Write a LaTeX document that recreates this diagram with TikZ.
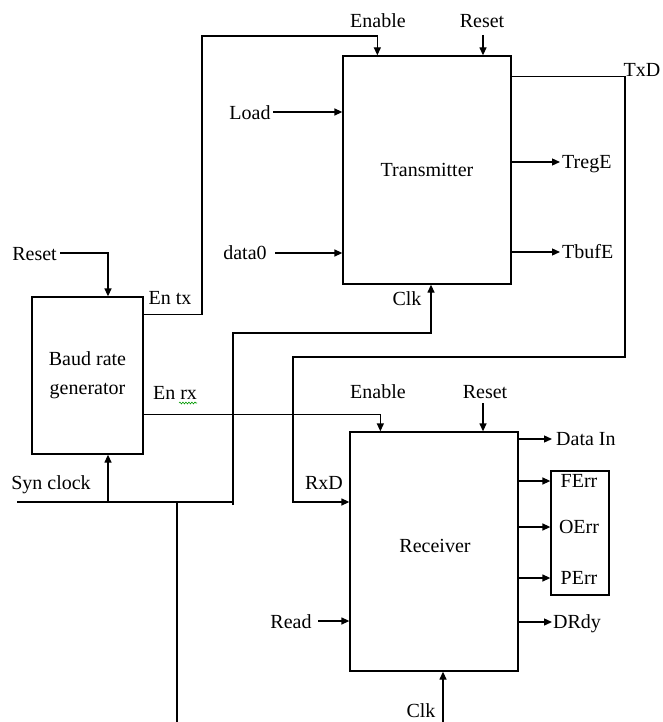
\documentclass[tikz,border=0pt]{standalone}
\usepackage{fontspec}
\setmainfont{Liberation Serif}
\usetikzlibrary{arrows.meta,decorations.pathmorphing}
\begin{document}
\begin{tikzpicture}[x=1pt,y=-1pt,
  wire/.style={line width=1.3pt},
  arr/.style={wire,-{Triangle[length=8pt,width=7pt]}},
  blk/.style={draw,line width=1.3pt,inner sep=0pt,font=\fontsize{20}{29}\selectfont,align=center},
  lbl/.style={inner sep=0pt,font=\fontsize{20}{24}\selectfont,text height=13pt,text depth=0pt}]
\useasboundingbox (0,0) rectangle (662,722);

% blocks
\node[blk,minimum width=168pt,minimum height=228pt] (tx) at (427,170) {Transmitter};
\node[blk,minimum width=168pt,minimum height=239pt] (rx) at (434,551.5) {};
\node[lbl] (rxname) at (435,546) {Receiver};
\node[blk,minimum width=111pt,minimum height=157pt] (baud) at (87.5,375.5) {Baud rate\\generator};
\node[blk,minimum width=58pt,minimum height=124pt] (err) at (580,533) {};

% labels
\node[lbl] (entxl) at (378,21) {Enable};
\node[lbl] (rsttxl) at (482,21) {Reset};
\node[lbl] (loadl) at (250,113) {Load};
\node[lbl] (datal) at (245,253) {data0};
\node[lbl,anchor=west] (tregl) at (562,162) {TregE};
\node[lbl,anchor=west] (tbufl) at (562,252) {TbufE};
\node[lbl] (txdl) at (642,70) {TxD};
\node[lbl] (clktxl) at (407,299) {Clk};
\node[lbl] (rstbl) at (34.5,254) {Reset};
\node[lbl] (entx) at (170,298) {En tx};
\node[lbl] (enrx) at (175,393) {En rx};
\node[lbl] (synl) at (51,483) {Syn clock};
\node[lbl] (enrxl) at (378,392) {Enable};
\node[lbl] (rstrxl) at (485,392) {Reset};
\node[lbl] (rxdl) at (324,483) {RxD};
\node[lbl] (readl) at (291,622) {Read};
\node[lbl] (clkrxl) at (421,711) {Clk};
\node[lbl,anchor=west] (datainl) at (556,439) {Data In};
\node[lbl] (ferrl) at (579,481) {FErr};
\node[lbl] (oerrl) at (579,527) {OErr};
\node[lbl] (perrl) at (579,578) {PErr};
\node[lbl,anchor=west] (drdyl) at (553,622) {DRdy};

% spell-check squiggle under "rx"
\draw[green!60!black,line width=0.6pt,decorate,decoration={snake,amplitude=0.9pt,segment length=3pt}] (179,403) -- (197,403);

% transmitter connections
\draw[arr] ([yshift=-18pt]baud.north east) -| (202,36) -| ([xshift=35pt]tx.north west);
\draw[arr] (483,35) -- ([xshift=56pt]tx.north);
\draw[arr] (273,112) -- (273,112 -| tx.west);
\draw[arr] (275,253) -- (275,253 -| tx.west);
\draw[arr] (tx.east |- tregl.west) -- ([xshift=-2pt]tregl.west);
\draw[arr] (tx.east |- tbufl.west) -- ([xshift=-2pt]tbufl.west);
\draw[arr] ([yshift=-21pt]tx.north east) -| (625,357) -| (293,502) -- (293,502 -| rx.west);

% clock and baud generator
\draw[wire] (17,502) -- (233,502);
\draw[arr] (233,505) |- (431,333) -- ([xshift=4pt]tx.south);
\draw[arr] (108,502) -- ([xshift=20.5pt]baud.south);
\draw[wire] (177,502) -- (177,722);
\draw[arr] (60,253) -| ([xshift=20.5pt]baud.north);

% receiver connections
\draw[arr] ([yshift=-118pt]baud.north east) -| ([xshift=31pt]rx.north west);
\draw[arr] (483,403) -- ([xshift=49pt]rx.north);
\draw[arr] (318,621) -- (318,621 -| rx.west);
\draw[arr] (443,722) -- ([xshift=9pt]rx.south);
\draw[arr] (rx.east |- datainl.west) -- ([xshift=-4pt]datainl.west);
\draw[arr] (518,481) -- (518,481 -| err.west);
\draw[arr] (518,527) -- (518,527 -| err.west);
\draw[arr] (518,578) -- (518,578 -| err.west);
\draw[arr] (rx.east |- drdyl.west) -- ([xshift=-1pt]drdyl.west);
\end{tikzpicture}
\end{document}
